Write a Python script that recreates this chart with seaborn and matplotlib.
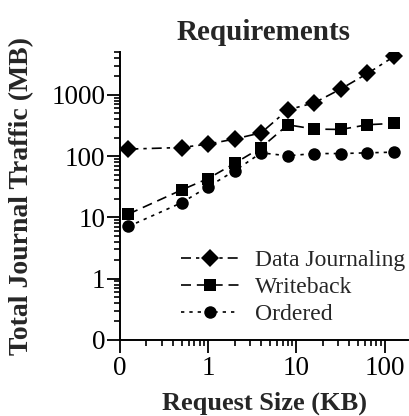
import numpy as np
import pandas as pd
import seaborn as sns
import matplotlib.pyplot as plt
from matplotlib.ticker import FixedLocator, FixedFormatter, LogLocator, NullFormatter

# request sizes in KB (first point is 128 bytes)
request_kb = [0.125, 0.5, 1, 2, 4, 8, 16, 32, 64, 128]
data_journaling = [130, 138, 157, 190, 240, 570, 740, 1250, 2230, 4230]
writeback = [11.3, 28, 43, 76, 138, 324, 276, 272, 325, 342]
ordered = [7.1, 17.3, 31.6, 57.5, 113, 101, 110, 110, 113, 116]
modes = ['Data Journaling', 'Writeback', 'Ordered']

x_ticks = [0.1, 1, 10, 100]
x_labels = ['0', '1', '10', '100']
y_ticks = [0.1, 1, 10, 100, 1000]
y_labels = ['0', '1', '10', '100', '1000']

df = pd.DataFrame({'size': request_kb * 3,
                   'traffic': data_journaling + writeback + ordered,
                   'mode': np.repeat(modes, len(request_kb))})

sns.set_style('ticks')
plt.rcParams['font.family'] = ['Liberation Serif', 'DejaVu Serif']

fig = plt.figure(figsize=(4.09, 4.16), dpi=100)
ax = fig.add_axes([0.293, 0.183, 0.705, 0.692])

sns.lineplot(data=df, x='size', y='traffic', style='mode', style_order=modes,
             markers={'Data Journaling': 'D', 'Writeback': 's', 'Ordered': 'o'},
             dashes={'Data Journaling': (6, 3, 2, 3), 'Writeback': (6, 3.5), 'Ordered': (2, 3)},
             color='black', linewidth=1.2, markersize=9, markeredgewidth=0,
             ax=ax)

ax.set_xscale('log')
ax.set_yscale('log')
ax.set_xlim(0.1, 185)
ax.set_ylim(0.1, 5000)

ax.xaxis.set_major_locator(FixedLocator(x_ticks))
ax.xaxis.set_major_formatter(FixedFormatter(x_labels))
ax.yaxis.set_major_locator(FixedLocator(y_ticks))
ax.yaxis.set_major_formatter(FixedFormatter(y_labels))
for axis in (ax.xaxis, ax.yaxis):
    axis.set_minor_locator(LogLocator(base=10, subs=np.arange(2, 10)))
    axis.set_minor_formatter(NullFormatter())

ax.tick_params(which='major', length=9.5, width=1.3, labelsize=19.5, colors='black')
ax.tick_params(axis='y', which='major', pad=1)
ax.tick_params(axis='x', which='major', pad=2)
ax.tick_params(which='minor', length=4, width=1.2, colors='black')
for s in ['left', 'bottom']:
    ax.spines[s].set_linewidth(1.4)
    ax.spines[s].set_color('black')
sns.despine(ax=ax)

ax.set_title('Requirements', fontsize=21, fontweight='bold', pad=9)
ax.set_xlabel('Request Size (KB)', fontsize=19, fontweight='bold', labelpad=7.5)
ax.set_ylabel('Total Journal Traffic (MB)', fontsize=20, fontweight='bold', labelpad=12)

ax.legend(loc='lower right', frameon=False, fontsize=17, handlelength=2.45,
          handletextpad=0.7, labelspacing=0.22, borderaxespad=0.2,
          bbox_to_anchor=(1.04, 0.003))

fig.savefig('out.png', dpi=100)
